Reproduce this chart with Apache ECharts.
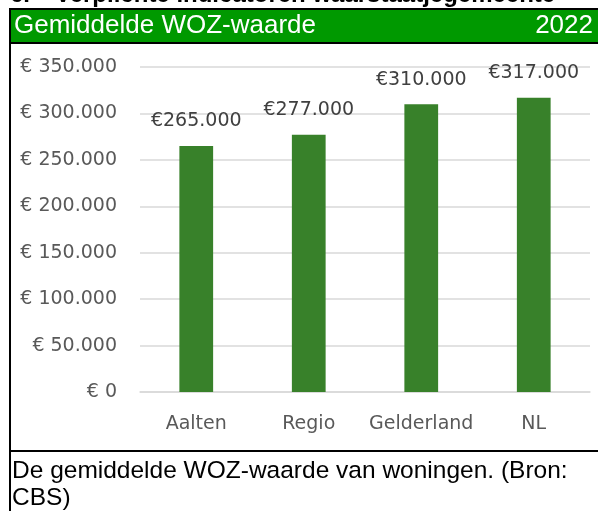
<!DOCTYPE html>
<html>
<head>
<meta charset="utf-8">
<script src="https://cdn.jsdelivr.net/npm/echarts@6/dist/echarts.min.js"></script>
<style>
  html, body { margin: 0; padding: 0; background: #fff; }
  #chart { width: 598px; height: 511px; }
</style>
</head>
<body>
<div id="chart"></div>
<script>
// gegevens
var gebieden = ['Aalten', 'Regio', 'Gelderland', 'NL'];
var wozWaarde = [265000, 277000, 310000, 317000];
var jaar = '2022';
var titel = 'Gemiddelde WOZ-waarde';
var kop = 'Verplichte indicatoren waarstaatjegemeente';
var bijschrift = 'De gemiddelde WOZ-waarde van woningen. (Bron:\nCBS)';

// 350000 -> 350.000
function punten (v) {
  return String(Math.round(v)).replace(/\B(?=(\d{3})+(?!\d))/g, '.');
}

var myChart = echarts.init(document.getElementById('chart'));
var options = {
  animation: false,
  grid: { left: 140, right: 8, top: 67, bottom: 119 },
  xAxis: {
    type: 'category',
    data: gebieden,
    axisTick: { show: false },
    axisLine: { lineStyle: { color: '#d9d9d9', width: 1.5 } },
    axisLabel: {
      interval: 0,
      margin: 23,
      color: '#595959',
      fontFamily: 'DejaVu Sans',
      fontSize: 19
    }
  },
  yAxis: {
    type: 'value',
    min: 0,
    max: 350000,
    interval: 50000,
    axisLine: { show: false },
    axisTick: { show: false },
    splitLine: { lineStyle: { color: '#d9d9d9', width: 1.5 } },
    axisLabel: {
      margin: 23,
      color: '#595959',
      fontFamily: 'DejaVu Sans',
      fontSize: 19,
      formatter: function (v) { return '€ ' + punten(v); }
    }
  },
  series: [{
    type: 'bar',
    data: wozWaarde,
    barWidth: '30%',
    itemStyle: { color: '#38812a' },
    label: {
      show: true,
      position: 'top',
      distance: 15,
      color: '#404040',
      fontFamily: 'DejaVu Sans',
      fontSize: 19,
      formatter: function (p) { return '€' + punten(p.value); }
    }
  }],
  graphic: [
    // afgesneden kop boven het kader
    { type: 'text', left: 10, top: -17, style: { text: '6.', fill: '#000', font: 'bold 24px "Liberation Sans"' } },
    { type: 'text', left: 55, top: -17, style: { text: kop, fill: '#000', font: 'bold 24px "Liberation Sans"' } },
    // groene balk
    { type: 'rect', shape: { x: 10, y: 9, width: 600, height: 34 }, style: { fill: '#009900', stroke: '#000', lineWidth: 2 } },
    { type: 'text', left: 14, top: 13, style: { text: titel, fill: '#fff', font: '26px "Liberation Sans"' } },
    { type: 'text', right: 5, top: 13, style: { text: jaar, fill: '#fff', font: '26px "Liberation Sans"', align: 'right' } },
    // linkerrand en scheidingslijn
    { type: 'line', shape: { x1: 10, y1: 8, x2: 10, y2: 520 }, style: { stroke: '#000', lineWidth: 2 } },
    { type: 'line', shape: { x1: 10, y1: 451, x2: 600, y2: 451 }, style: { stroke: '#000', lineWidth: 2 } },
    // bijschrift
    { type: 'text', left: 12, top: 458, style: { text: bijschrift, fill: '#000', font: '24.5px "Liberation Sans"', lineHeight: 27 } }
  ]
};
myChart.setOption(options);
</script>
</body>
</html>
